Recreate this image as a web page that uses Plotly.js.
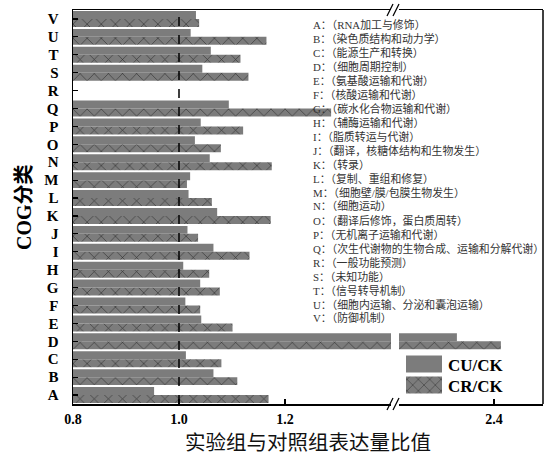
<!DOCTYPE html>
<html>
<head>
<meta charset="utf-8">
<script src="https://cdn.plot.ly/plotly-3.0.1.min.js"></script>
<style>
html,body{margin:0;padding:0;background:#fff;}
#chart{width:552px;height:454px;}
</style>
</head>
<body>
<div id="chart"></div>
<script>
// ---- data ----
const categories = ['A','B','C','D','E','F','G','H','I','J','K','L','M','N','O','P','Q','R','S','T','U','V'];
const cuck = [0.953,1.065,1.013,2.330,1.042,1.012,1.040,1.008,1.065,1.016,1.072,1.018,1.021,1.058,1.030,1.041,1.094,null,1.044,1.060,1.022,1.032];
const crck = [1.169,1.110,1.080,2.413,1.101,1.040,1.077,1.057,1.133,1.036,1.173,1.062,1.015,1.175,1.079,1.121,1.287,null,1.131,1.116,1.165,1.038];
const descriptions = ['RNA加工与修饰','染色质结构和动力学','能源生产和转换','细胞周期控制','氨基酸运输和代谢','核酸运输和代谢','碳水化合物运输和代谢','辅酶运输和代谢','脂质转运与代谢','翻译，核糖体结构和生物发生','转录','复制、重组和修复','细胞壁/膜/包膜生物发生','细胞运动','翻译后修饰，蛋白质周转','无机离子运输和代谢','次生代谢物的生物合成、运输和分解代谢','一般功能预测','未知功能','信号转导机制','细胞内运输、分泌和囊泡运输','防御机制'];
const seriesNames = ['CU/CK','CR/CK'];
const leftTicks = [0.8,1.0,1.2];
const rightTicks = [2.4];

// ---- layout helpers ----
const L = 73, R = 543, T = 10, B = 404;
const px = v => (v - L) / (R - L);
const py = v => (B - v) / (B - T);
const serif = 'Liberation Serif, Times New Roman, serif';
const cjk = 'Liberation Serif, Noto Sans CJK SC, serif';

const grey = '#7c7c7c';
const pattern = {shape:'x', size:10, solidity:0.12, fgcolor:'#2e2e2e', bgcolor:grey, fillmode:'replace'};

function mk(name, vals, xa, hatch, legendId){
  return {
    type:'bar', orientation:'h', name:name, y:categories, x:vals,
    xaxis:xa, yaxis:'y', showlegend:!!legendId, legend:legendId || 'legend', hoverinfo:'skip',
    marker: hatch ? {color:grey, pattern:pattern, line:{width:0}} : {color:grey, line:{width:0}}
  };
}
const data = [
  mk(seriesNames[1], crck, 'x', true, 'legend2'),
  mk(seriesNames[0], cuck, 'x', false, 'legend'),
  mk(seriesNames[1], crck, 'x2', true, null),
  mk(seriesNames[0], cuck, 'x2', false, null)
];

const annotations = descriptions.map((d,i)=>({
  xref:'paper', yref:'paper', x:px(311), y:py(25 + i*13.95),
  xanchor:'left', yanchor:'middle', showarrow:false,
  text: categories[i] + '：（' + d + '）',
  font:{family:cjk, size:10.9, color:'#333'}
}));
annotations.push({
  xref:'paper', yref:'paper', x:px(308), y:py(443), xanchor:'center', yanchor:'middle',
  showarrow:false, text:'实验组与对照组表达量比值', font:{family:cjk, size:20.5, color:'#111'}
});
annotations.push({
  xref:'paper', yref:'paper', x:px(24), y:py(207), xanchor:'center', yanchor:'middle',
  showarrow:false, textangle:-90, text:'COG分类', font:{family:cjk, size:20, color:'#000', weight:'bold'}
});

const line = (x0,y0,x1,y1,w)=>({type:'line', xref:'paper', yref:'paper', x0:px(x0), y0:py(y0), x1:px(x1), y1:py(y1), line:{color:'#000', width:w||1.3}});
const shapes = [
  {type:'line', xref:'x', yref:'paper', x0:1.0, x1:1.0, y0:0, y1:1, line:{color:'#000', width:1.5, dash:'dash'}},
  line(R, T, R, B, 1.5),
  // break marks
  line(387, 16, 393, 4), line(393, 16, 399, 4),
  line(387, 410, 393, 398), line(393, 410, 399, 398)
];

const axBase = {
  showline:true, linecolor:'#000', linewidth:1.5, mirror:true, ticks:'inside', ticklen:5, tickwidth:1.2,
  tickcolor:'#000', showgrid:false, zeroline:false, fixedrange:true, layer:'above traces',
  tickfont:{family:serif, size:14, color:'#000', weight:'bold'}, ticklabelstandoff:2
};
const legendBase = {xanchor:'left', yanchor:'top', bgcolor:'rgba(0,0,0,0)', borderwidth:0, itemwidth:38,
  font:{family:serif, size:17, color:'#000', weight:'bold'}};
const layout = {
  width:552, height:454,
  margin:{l:L, r:552-R, t:T, b:454-B, pad:0},
  paper_bgcolor:'#fff', plot_bgcolor:'#fff',
  barmode:'group', bargap:0.11, bargroupgap:0,
  showlegend:true,
  xaxis: Object.assign({}, axBase, {domain:[0, px(391)], range:[0.8, 0.8 + 318/530], tickmode:'array', tickvals:leftTicks, ticktext:leftTicks.map(v=>v.toFixed(1))}),
  xaxis2: Object.assign({}, axBase, {domain:[px(399), 1], range:[2.4 - 95/530, 2.4 + 49/530], tickmode:'array', tickvals:rightTicks, ticktext:rightTicks.map(v=>v.toFixed(1)), anchor:'y'}),
  yaxis: {showline:true, linecolor:'#000', linewidth:1.5, ticks:'inside', ticklen:5, tickwidth:1.2, tickcolor:'#000',
          showgrid:false, zeroline:false, fixedrange:true, type:'category', range:[-0.5, 21.5],
          tickmode:'array', tickvals:categories, ticktext:categories, layer:'above traces',
          tickfont:{family:serif, size:15, color:'#000', weight:'bold'}, ticklabelstandoff:10},
  legend: Object.assign({}, legendBase, {x:px(400), y:py(346.5)}),
  legend2: Object.assign({}, legendBase, {x:px(400), y:py(367.5)}),
  annotations:annotations,
  shapes:shapes
};
function fixSwatches(){
  // enlarge the legend swatches to the reference's 36x17 boxes (pattern stays unscaled)
  document.querySelectorAll('.legendpoints path').forEach(p=>{
    p.setAttribute('d', 'M18,8.5H-18V-8.5H18Z');
  });
}
Plotly.newPlot('chart', data, layout, {staticPlot:true, displayModeBar:false}).then(fixSwatches);
</script>
</body>
</html>
